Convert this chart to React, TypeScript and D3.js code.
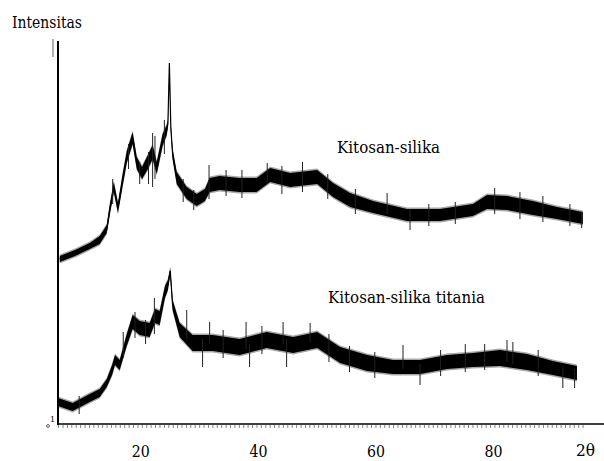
import * as d3 from 'd3';

// 2-theta positions (deg), intensity (a.u.) and noise half-width
const silikaTheta = [6.2, 8.8, 11.3, 13.0, 14.2, 14.7, 15.4, 16.1, 16.9, 17.6, 18.6, 19.3, 20.2, 21.2, 22.0, 22.7, 23.7, 24.4, 24.6, 24.85, 25.1, 25.4, 26.1, 27.8, 29.5, 30.9, 31.7, 33.4, 36.8, 39.7, 42.0, 45.4, 50.0, 52.7, 55.6, 59.5, 65.3, 70.9, 76.5, 78.9, 82.3, 86.7, 90.8, 95.2];
const silikaI = [165, 171, 178, 184, 195, 214, 237, 216, 244, 267, 286, 261, 251, 262, 272, 256, 284, 294, 300, 361, 296, 270, 246, 231, 224, 229, 239, 241, 239, 239, 249, 244, 247, 234, 224, 217, 209, 209, 214, 222, 221, 216, 211, 206];
const silikaNoise = [3, 3, 3, 4, 4, 5, 5, 5, 6, 6, 6, 6, 6, 7, 7, 6, 6, 5, 3, 1, 3, 5, 6, 6, 6, 6, 7, 7, 7, 7, 7, 7, 7, 7, 7, 6, 6, 6, 6, 7, 7, 7, 6, 6];
// visible single-channel spikes (2-theta, low, high)
const silikaSpikes = [
  { t: 15.2, lo: 220, hi: 245 },
  { t: 17.9, lo: 255, hi: 280 },
  { t: 19.8, lo: 240, hi: 262 },
  { t: 21.3, lo: 240, hi: 272 },
  { t: 22.0, lo: 237, hi: 291 },
  { t: 22.4, lo: 245, hi: 288 },
  { t: 24.0, lo: 270, hi: 304 },
  { t: 27.2, lo: 222, hi: 245 },
  { t: 29.0, lo: 214, hi: 234 },
  { t: 31.6, lo: 225, hi: 259 },
  { t: 34.5, lo: 228, hi: 254 },
  { t: 37.2, lo: 226, hi: 254 },
  { t: 41.5, lo: 240, hi: 261 },
  { t: 44.0, lo: 230, hi: 258 },
  { t: 47.5, lo: 232, hi: 262 },
  { t: 51.8, lo: 225, hi: 250 },
  { t: 56.5, lo: 210, hi: 235 },
  { t: 61.9, lo: 210, hi: 231 },
  { t: 65.8, lo: 194, hi: 215 },
  { t: 69.0, lo: 198, hi: 220 },
  { t: 73.5, lo: 200, hi: 222 },
  { t: 80.2, lo: 210, hi: 236 },
  { t: 84.5, lo: 205, hi: 232 },
  { t: 88.4, lo: 202, hi: 228 },
  { t: 93.0, lo: 198, hi: 220 },
  { t: 95.0, lo: 196, hi: 212 },
];

const titaniaTheta = [5.9, 8.4, 11.3, 13.0, 14.2, 15.1, 15.6, 16.4, 17.6, 18.6, 19.8, 21.5, 22.4, 23.2, 24.1, 24.6, 25.0, 25.4, 26.6, 28.8, 32.2, 36.8, 41.4, 45.9, 50.0, 53.9, 58.5, 62.9, 67.5, 72.1, 76.5, 81.1, 85.7, 90.1, 94.2];
const titaniaI = [22, 17, 26, 31, 41, 54, 64, 59, 84, 102, 96, 94, 108, 106, 132, 139, 153, 119, 94, 81, 81, 77, 84, 79, 84, 69, 61, 57, 57, 62, 64, 66, 62, 56, 51];
const titaniaNoise = [4, 4, 4, 4, 4, 5, 5, 5, 6, 7, 7, 7, 7, 7, 6, 5, 3, 5, 7, 8, 8, 8, 8, 8, 8, 8, 8, 7, 7, 7, 7, 8, 8, 7, 7];
const titaniaSpikes = [
  { t: 9.5, lo: 10, hi: 28 },
  { t: 17.0, lo: 66, hi: 92 },
  { t: 19.0, lo: 86, hi: 112 },
  { t: 20.8, lo: 80, hi: 104 },
  { t: 22.3, lo: 90, hi: 126 },
  { t: 27.8, lo: 85, hi: 114 },
  { t: 30.5, lo: 57, hi: 85 },
  { t: 31.7, lo: 80, hi: 102 },
  { t: 34.0, lo: 66, hi: 94 },
  { t: 37.9, lo: 75, hi: 102 },
  { t: 38.5, lo: 57, hi: 80 },
  { t: 40.6, lo: 70, hi: 98 },
  { t: 44.2, lo: 80, hi: 102 },
  { t: 44.8, lo: 57, hi: 85 },
  { t: 48.8, lo: 82, hi: 101 },
  { t: 52.0, lo: 62, hi: 90 },
  { t: 55.5, lo: 52, hi: 78 },
  { t: 59.8, lo: 46, hi: 72 },
  { t: 64.6, lo: 55, hi: 79 },
  { t: 67.5, lo: 39, hi: 60 },
  { t: 71.0, lo: 48, hi: 74 },
  { t: 75.2, lo: 52, hi: 80 },
  { t: 78.5, lo: 54, hi: 80 },
  { t: 82.3, lo: 62, hi: 84 },
  { t: 83.3, lo: 60, hi: 82 },
  { t: 87.6, lo: 48, hi: 74 },
  { t: 91.8, lo: 36, hi: 58 },
  { t: 93.8, lo: 36, hi: 55 },
];

const xTicks = [20, 40, 60, 80];

type Pt = { t: number; v: number; n: number };

const zipSeries = (th: number[], v: number[], n: number[]): Pt[] =>
  th.map((t, i) => ({ t, v: v[i], n: n[i] }));

export default function App() {
  const width = 604;
  const height = 461;
  const x0 = 58;
  const yAxisBottom = 424;

  const x = d3.scaleLinear().domain([5.9, 95.4]).range([x0, 584]);
  const y = d3.scaleLinear().domain([0, 383]).range([yAxisBottom, 41]);

  const series = [
    { data: zipSeries(silikaTheta, silikaI, silikaNoise), spikes: silikaSpikes },
    { data: zipSeries(titaniaTheta, titaniaI, titaniaNoise), spikes: titaniaSpikes },
  ];

  const line = d3.line<Pt>().x(d => x(d.t)).y(d => y(d.v));
  const fringe = d3.area<Pt>().x(d => x(d.t)).y0(d => y(d.v - d.n - 1.5)).y1(d => y(d.v + d.n + 1.5));
  const core = d3.area<Pt>().x(d => x(d.t)).y0(d => y(d.v - d.n)).y1(d => y(d.v + d.n));

  const minorTicks = d3.range(6, 95.4, 0.75);
  const font = "'DejaVu Serif', serif";

  return (
    <svg width={width} height={height} style={{ position: 'absolute', left: 0, top: 0, background: '#fff' }}>
      <g style={{ fontFamily: font }}>
        <text x={12} y={28} fontSize={16.5} textLength={70} lengthAdjust="spacingAndGlyphs" fill="#000">Intensitas</text>
        <text x={337} y={153} fontSize={17} textLength={103} lengthAdjust="spacingAndGlyphs" fill="#000">Kitosan-silika</text>
        <text x={328} y={303} fontSize={17} textLength={157} lengthAdjust="spacingAndGlyphs" fill="#000">Kitosan-silika titania</text>
        {xTicks.map(t => (
          <text key={t} x={x(t) - 9} y={457} fontSize={17} textLength={18} lengthAdjust="spacingAndGlyphs" fill="#000">{t}</text>
        ))}
        <text x={576} y={456} fontSize={16} textLength={19} lengthAdjust="spacingAndGlyphs" fill="#000">2θ</text>
        <text x={50} y={422} fontSize={8} fill="#000">1</text>
      </g>

      {series.map((s, i) => (
        <g key={i}>
          <path d={fringe(s.data) ?? ''} fill="#a8a8a8" />
          <path d={core(s.data) ?? ''} fill="#000" />
          <path d={line(s.data) ?? ''} fill="none" stroke="#000" strokeWidth={1.2} />
          {s.spikes.map((sp, j) => (
            <line key={j} x1={x(sp.t)} x2={x(sp.t)} y1={y(sp.lo)} y2={y(sp.hi)} stroke="#222" strokeWidth={1} />
          ))}
        </g>
      ))}

      {/* axes */}
      <line x1={53} x2={53} y1={39} y2={57} stroke="#999" strokeWidth={1.5} />
      <line x1={x0} x2={x0} y1={41} y2={yAxisBottom + 1} stroke="#000" strokeWidth={2} />
      <line x1={x0} x2={width} y1={yAxisBottom} y2={yAxisBottom} stroke="#000" strokeWidth={1.6} />
      {minorTicks.map((t, i) => (
        <line key={i} x1={x(t)} x2={x(t)} y1={yAxisBottom + 1} y2={yAxisBottom + 4} stroke="#666" strokeWidth={0.8} />
      ))}
      <circle cx={48} cy={426} r={1.4} fill="none" stroke="#000" strokeWidth={0.6} />
    </svg>
  );
}
